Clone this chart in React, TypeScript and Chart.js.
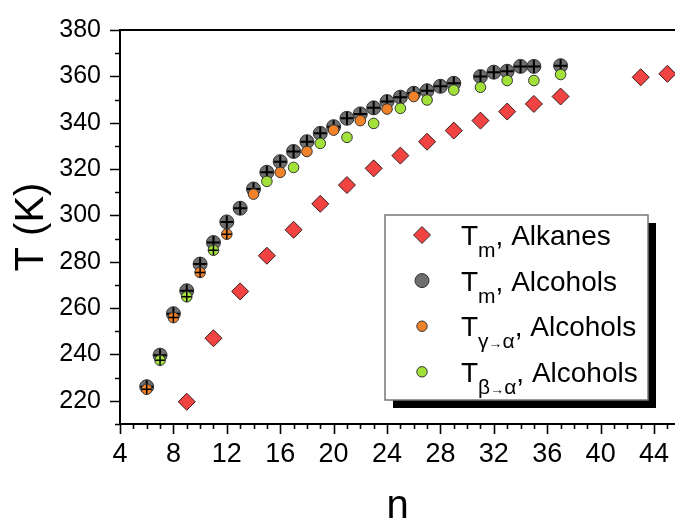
import { useEffect, useRef } from "react";
import { Chart, registerables } from "chart.js";

Chart.register(...registerables);

const FONT = "'Liberation Sans', Arial, sans-serif";

// Melting points of n-alkanes (carbon number n, T in K)
const alkaneN = [9, 11, 13, 15, 17, 19, 21, 23, 25, 27, 29, 31, 33, 35, 37, 43, 45];
const alkaneTm = [219.6, 247, 267.2, 282.6, 293.8, 305, 313.1, 320.3, 325.8, 331.8, 336.6, 340.9, 344.8, 348.1, 351.3, 359.6, 361.1];

// Melting points of n-alcohols
const alcoholN = [6, 7, 8, 9, 10, 11, 12, 13, 14, 15, 16, 17, 18, 19, 20, 21, 22, 23, 24, 25, 26, 27, 28, 29, 31, 32, 33, 34, 35, 37];
const alcoholTm = [226.1, 239.7, 257.6, 267.5, 279, 288.3, 297.2, 303.1, 311.4, 318.6, 323.2, 327.6, 331.8, 335.4, 338.3, 341.9, 343.8, 346.4, 349.1, 351, 352.7, 353.8, 355.7, 357, 359.9, 361.8, 362.2, 364.3, 364.3, 364.6];

// gamma -> alpha transition of alcohols
const gammaN = [6, 8, 10, 12, 14, 16, 18, 20, 22, 24, 26];
const gammaT = [225, 255.9, 275.4, 291.9, 309.2, 318.6, 327.6, 336.8, 340.9, 345.9, 351.3];

// beta -> alpha transition of alcohols
const betaN = [7, 9, 11, 15, 17, 19, 21, 23, 25, 27, 29, 31, 33, 35, 37];
const betaT = [237.5, 264.9, 285, 314.7, 320.7, 331.1, 333.7, 339.7, 346.2, 349.8, 354.1, 355.3, 358.2, 358.2, 360.8];

// short chains carry the "+" mark on the transition points too
const crossMaxN = 12;

const xTicks = [4, 8, 12, 16, 20, 24, 28, 32, 36, 40, 44];
const yTicks = [220, 240, 260, 280, 300, 320, 340, 360, 380];
const X_MIN = 4;
const X_MAX = 45.57;
const Y_MIN = 210;
const Y_MAX = 380;

const RED = "#F24343";
const GRAY = "#6E6E6E";
const ORANGE = "#F0822A";
const GREEN = "#A2E03A";

type Part = { t: string; sub?: boolean; small?: boolean };
const legendRows: { marker: string; color: string; parts: Part[] }[] = [
  { marker: "diamond", color: RED, parts: [{ t: "T" }, { t: "m", sub: true }, { t: ", Alkanes" }] },
  { marker: "big", color: GRAY, parts: [{ t: "T" }, { t: "m", sub: true }, { t: ", Alcohols" }] },
  { marker: "small", color: ORANGE, parts: [{ t: "T" }, { t: "γ", sub: true }, { t: "→", sub: true, small: true }, { t: "α", sub: true }, { t: ", Alcohols" }] },
  { marker: "small", color: GREEN, parts: [{ t: "T" }, { t: "β", sub: true }, { t: "→", sub: true, small: true }, { t: "α", sub: true }, { t: ", Alcohols" }] },
];

const pts = (xs: number[], ys: number[]) => xs.map((x, i) => ({ x, y: ys[i] }));

// tick marks: majors with labels, minors in between, all pointing outward
const tickMarks = {
  id: "tickMarks",
  afterDraw(chart: any) {
    const { ctx, chartArea, scales } = chart;
    const xs = scales.x;
    const ys = scales.y;
    ctx.save();
    ctx.strokeStyle = "#000";
    ctx.lineWidth = 1.6;
    ctx.beginPath();
    for (let v = Math.ceil(X_MIN); v <= X_MAX; v += 1) {
      const px = Math.round(xs.getPixelForValue(v)) + 0.5;
      const len = xTicks.includes(v) ? 10 : 5;
      ctx.moveTo(px, chartArea.bottom);
      ctx.lineTo(px, chartArea.bottom + len);
    }
    for (let v = Y_MIN; v <= Y_MAX; v += 10) {
      const py = Math.round(ys.getPixelForValue(v)) + 0.5;
      const len = yTicks.includes(v) ? 10 : 5;
      ctx.moveTo(chartArea.left, py);
      ctx.lineTo(chartArea.left - len, py);
    }
    ctx.stroke();
    // frame line along the top
    ctx.lineWidth = 2;
    ctx.beginPath();
    ctx.moveTo(chartArea.left - 1, chartArea.top);
    ctx.lineTo(chartArea.right, chartArea.top);
    ctx.stroke();
    ctx.restore();
  },
};

const boxLegend = {
  id: "boxLegend",
  afterDraw(chart: any) {
    const { ctx, chartArea } = chart;
    const right = chartArea.right - 27;
    const bottom = chartArea.bottom - 24;
    const w = 263;
    const h = 185;
    const left = right - w;
    const top = bottom - h;
    ctx.save();
    ctx.fillStyle = "#000";
    ctx.fillRect(left + 8, top + 8, w, h);
    ctx.fillStyle = "#fff";
    ctx.fillRect(left, top, w, h);
    ctx.strokeStyle = "#777";
    ctx.lineWidth = 1.5;
    ctx.strokeRect(left, top, w, h);

    legendRows.forEach((row, i) => {
      const base = top + 30 + i * 45.6;
      const mx = left + 37;
      const my = base - 10;
      ctx.lineWidth = 1;
      ctx.strokeStyle = "#333";
      ctx.fillStyle = row.color;
      ctx.beginPath();
      if (row.marker === "diamond") {
        const r = 8.5;
        ctx.moveTo(mx - r, my);
        ctx.lineTo(mx, my - r);
        ctx.lineTo(mx + r, my);
        ctx.lineTo(mx, my + r);
        ctx.closePath();
      } else {
        ctx.arc(mx, my, row.marker === "big" ? 7 : 5.2, 0, Math.PI * 2);
      }
      ctx.fill();
      ctx.stroke();

      let x = left + 76;
      ctx.fillStyle = "#000";
      ctx.textBaseline = "alphabetic";
      ctx.textAlign = "left";
      row.parts.forEach((p) => {
        const size = p.sub ? (p.small ? 14 : 21) : 28;
        ctx.font = `${size}px ${FONT}`;
        const y = p.sub ? base + 12 : base;
        ctx.fillText(p.t, x, y);
        x += ctx.measureText(p.t).width;
      });
    });
    ctx.restore();
  },
};

export default function App() {
  const ref = useRef<HTMLCanvasElement | null>(null);

  useEffect(() => {
    if (!ref.current) return;
    const crossPts = [
      ...pts(gammaN, gammaT).filter((p) => p.x <= crossMaxN),
      ...pts(betaN, betaT).filter((p) => p.x <= crossMaxN),
    ];
    const chart = new Chart(ref.current, {
      type: "scatter",
      data: {
        datasets: [
          {
            label: "Tm, Alkanes",
            data: pts(alkaneN, alkaneTm),
            pointStyle: "rectRot",
            pointRadius: 8.5,
            backgroundColor: RED,
            borderColor: "#3a1a1a",
            borderWidth: 1,
            order: 5,
          },
          {
            label: "Tm, Alcohols",
            data: pts(alcoholN, alcoholTm),
            pointStyle: "circle",
            pointRadius: 7,
            backgroundColor: GRAY,
            borderColor: "#333",
            borderWidth: 1,
            order: 4,
          },
          {
            label: "Tm, Alcohols (+)",
            data: pts(alcoholN, alcoholTm),
            pointStyle: "cross",
            pointRadius: 6.5,
            backgroundColor: "#000",
            borderColor: "#000",
            borderWidth: 2,
            order: 3,
          },
          {
            label: "Tγ→α, Alcohols",
            data: pts(gammaN, gammaT),
            pointStyle: "circle",
            pointRadius: 5.3,
            backgroundColor: ORANGE,
            borderColor: "#333",
            borderWidth: 1,
            order: 2,
          },
          {
            label: "Tβ→α, Alcohols",
            data: pts(betaN, betaT),
            pointStyle: "circle",
            pointRadius: 5.3,
            backgroundColor: GREEN,
            borderColor: "#333",
            borderWidth: 1,
            order: 1,
          },
          {
            label: "(+)",
            data: crossPts,
            pointStyle: "cross",
            pointRadius: 5,
            backgroundColor: "#000",
            borderColor: "#000",
            borderWidth: 1.5,
            order: 0,
          },
        ],
      },
      options: {
        responsive: false,
        animation: false,
        events: [],
        layout: { autoPadding: false, padding: { top: 30, left: 0, right: 0, bottom: 0 } },
        plugins: {
          legend: { display: false },
          tooltip: { enabled: false },
        },
        scales: {
          x: {
            type: "linear",
            min: X_MIN,
            max: X_MAX,
            afterBuildTicks: (s: any) => {
              s.ticks = xTicks.map((v) => ({ value: v }));
            },
            afterFit: (s: any) => {
              s.height = 95;
              s.paddingRight = 0;
            },
            ticks: {
              font: { size: 27, family: FONT },
              color: "#000",
              padding: 4,
              maxRotation: 0,
              autoSkip: false,
            },
            grid: { display: false, drawTicks: true, tickLength: 10 },
            border: { display: true, color: "#000", width: 2 },
            title: {
              display: true,
              text: "n",
              color: "#000",
              font: { size: 40, family: FONT },
              padding: { top: 0, bottom: -12 },
            },
          },
          y: {
            type: "linear",
            min: Y_MIN,
            max: Y_MAX,
            afterBuildTicks: (s: any) => {
              s.ticks = yTicks.map((v) => ({ value: v }));
            },
            afterFit: (s: any) => {
              s.width = 120;
            },
            ticks: {
              font: { size: 25, family: FONT },
              color: "#000",
              padding: 9,
              autoSkip: false,
            },
            grid: { display: false, drawTicks: true, tickLength: 10 },
            border: { display: true, color: "#000", width: 2 },
            title: {
              display: true,
              text: "T (K)",
              color: "#000",
              font: { size: 40, family: FONT },
              padding: { top: 8, bottom: 0 },
            },
          },
        },
      },
      plugins: [tickMarks, boxLegend],
    } as any);
    return () => chart.destroy();
  }, []);

  return (
    <div style={{ position: "absolute", left: 0, top: 0, width: 675, height: 519, background: "#fff" }}>
      <canvas ref={ref} width={675} height={519} style={{ display: "block" }} />
    </div>
  );
}
